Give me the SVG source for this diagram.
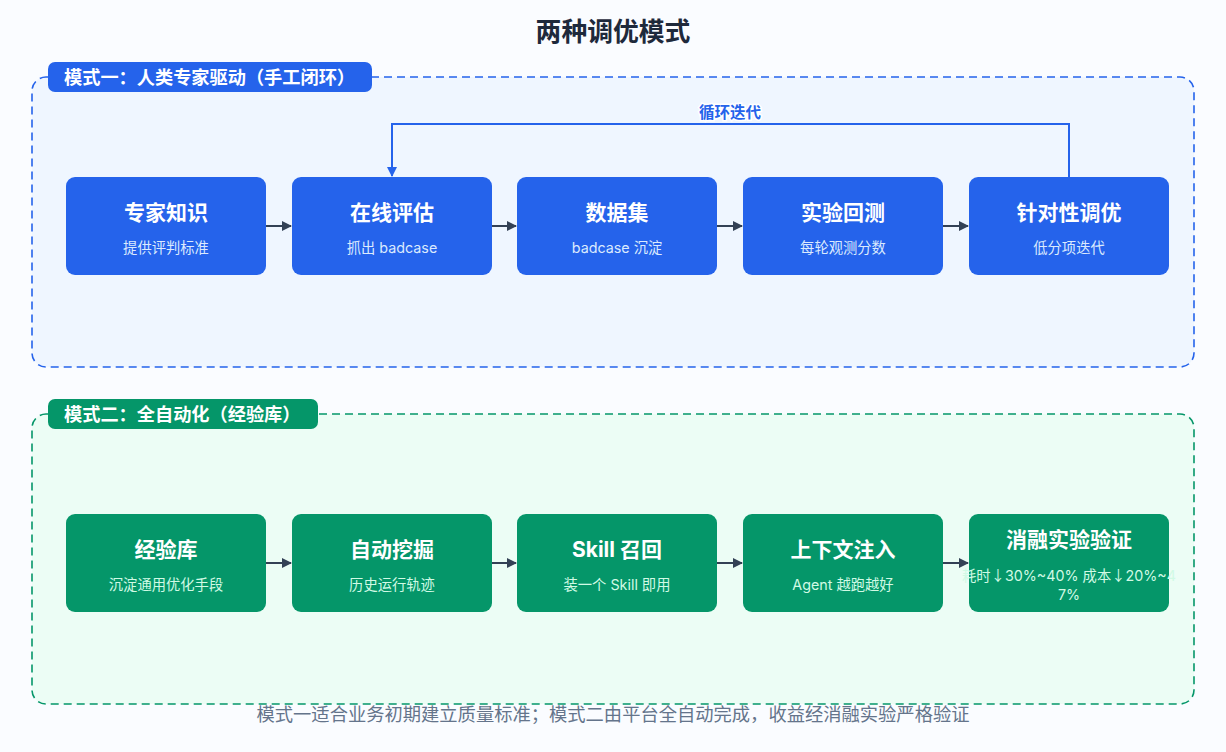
<svg xmlns="http://www.w3.org/2000/svg" width="1226" height="752" viewBox="0 0 1226 752">
<defs>
<style>
text{font-family:Inter,"Noto Sans CJK SC",sans-serif}
.title{font-size:25.8px;font-weight:700;fill:#1e293b;text-anchor:middle}
.glabel{font-size:18.2px;font-weight:700;fill:#fff}
.nt{font-size:21px;font-weight:700;fill:#fff;text-anchor:middle}
.ns{font-size:14.3px;text-anchor:middle}
.blue .ns{fill:#dbeafe}
.green .ns{fill:#d1fae5}
.blue rect{fill:#2563eb}
.green rect{fill:#059669}
.conn{stroke:#334155;stroke-width:2;fill:none}
.loop{stroke:#2563eb;stroke-width:2;fill:none}
.cap{font-size:18.3px;fill:#64748b;text-anchor:middle}
.cjk{font-family:"Noto Sans CJK SC",sans-serif}
</style>
<marker id="ah" viewBox="0 0 10 10" refX="9" refY="5" markerWidth="5" markerHeight="5" orient="auto"><path d="M0,0 L10,5 L0,10 z" fill="#334155"/></marker>
<marker id="ahb" viewBox="0 0 10 10" refX="9" refY="5" markerWidth="5" markerHeight="5" orient="auto"><path d="M0,0 L10,5 L0,10 z" fill="#2563eb"/></marker>
</defs>
<rect width="1226" height="752" fill="#fafcff"/>
<text class="title" x="613" y="41">两种调优模式</text>

<g id="group1">
<rect x="32" y="77" width="1162" height="290" rx="14" fill="#eff6ff" stroke="#2563eb" stroke-width="1.6" stroke-dasharray="8 5"/>
<rect x="48" y="62" width="324" height="30" rx="7" fill="#2563eb"/>
<text class="glabel" x="64" y="83.5">模式一：人类专家驱动（手工闭环）</text>
</g>
<g id="group2">
<rect x="32" y="414" width="1162" height="290" rx="14" fill="#ecfdf5" stroke="#059669" stroke-width="1.6" stroke-dasharray="8 5"/>
<rect x="48" y="399" width="270" height="30" rx="7" fill="#059669"/>
<text class="glabel" x="64" y="420.5">模式二：全自动化（经验库）</text>
</g>

<g id="connectors">
<line class="conn" x1="266" y1="226" x2="291" y2="226" marker-end="url(#ah)"/>
<line class="conn" x1="492" y1="226" x2="516" y2="226" marker-end="url(#ah)"/>
<line class="conn" x1="717" y1="226" x2="742" y2="226" marker-end="url(#ah)"/>
<line class="conn" x1="943" y1="226" x2="968" y2="226" marker-end="url(#ah)"/>
<path class="loop" d="M1069,177 V124 H392 V176" marker-end="url(#ahb)"/>
<text x="730" y="117.5" font-size="15.5" font-weight="700" fill="#2563eb" text-anchor="middle" stroke="#ffffff" stroke-width="3" paint-order="stroke">循环迭代</text>
<line class="conn" x1="266" y1="563" x2="291" y2="563" marker-end="url(#ah)"/>
<line class="conn" x1="492" y1="563" x2="516" y2="563" marker-end="url(#ah)"/>
<line class="conn" x1="717" y1="563" x2="742" y2="563" marker-end="url(#ah)"/>
<line class="conn" x1="943" y1="563" x2="968" y2="563" marker-end="url(#ah)"/>
</g>

<g id="n1" class="blue"><rect x="66" y="177" width="200" height="98" rx="9"/><text class="nt" x="166" y="220">专家知识</text><text class="ns" x="166" y="253">提供评判标准</text></g>
<g id="n2" class="blue"><rect x="292" y="177" width="200" height="98" rx="9"/><text class="nt" x="392" y="220">在线评估</text><text class="ns" x="392" y="253">抓出 badcase</text></g>
<g id="n3" class="blue"><rect x="517" y="177" width="200" height="98" rx="9"/><text class="nt" x="617" y="220">数据集</text><text class="ns" x="617" y="253">badcase 沉淀</text></g>
<g id="n4" class="blue"><rect x="743" y="177" width="200" height="98" rx="9"/><text class="nt" x="843" y="220">实验回测</text><text class="ns" x="843" y="253">每轮观测分数</text></g>
<g id="n5" class="blue"><rect x="969" y="177" width="200" height="98" rx="9"/><text class="nt" x="1069" y="220">针对性调优</text><text class="ns" x="1069" y="253">低分项迭代</text></g>

<g id="m1" class="green"><rect x="66" y="514" width="200" height="98" rx="9"/><text class="nt" x="166" y="557">经验库</text><text class="ns" x="166" y="590">沉淀通用优化手段</text></g>
<g id="m2" class="green"><rect x="292" y="514" width="200" height="98" rx="9"/><text class="nt" x="392" y="557">自动挖掘</text><text class="ns" x="392" y="590">历史运行轨迹</text></g>
<g id="m3" class="green"><rect x="517" y="514" width="200" height="98" rx="9"/><text class="nt" x="617" y="557">Skill 召回</text><text class="ns" x="617" y="590">装一个 Skill 即用</text></g>
<g id="m4" class="green"><rect x="743" y="514" width="200" height="98" rx="9"/><text class="nt" x="843" y="557">上下文注入</text><text class="ns" x="843" y="590">Agent 越跑越好</text></g>
<g id="m5" class="green"><rect x="969" y="514" width="200" height="98" rx="9"/><text class="nt" x="1069" y="547">消融实验验证</text><text class="ns" x="1069" y="581">耗时<tspan class="cjk">↓</tspan>30%~40% 成本<tspan class="cjk">↓</tspan>20%~4</text><text class="ns" x="1069" y="600">7%</text></g>

<text class="cap" x="613" y="721">模式一适合业务初期建立质量标准；模式二由平台全自动完成，收益经消融实验严格验证</text>
</svg>
